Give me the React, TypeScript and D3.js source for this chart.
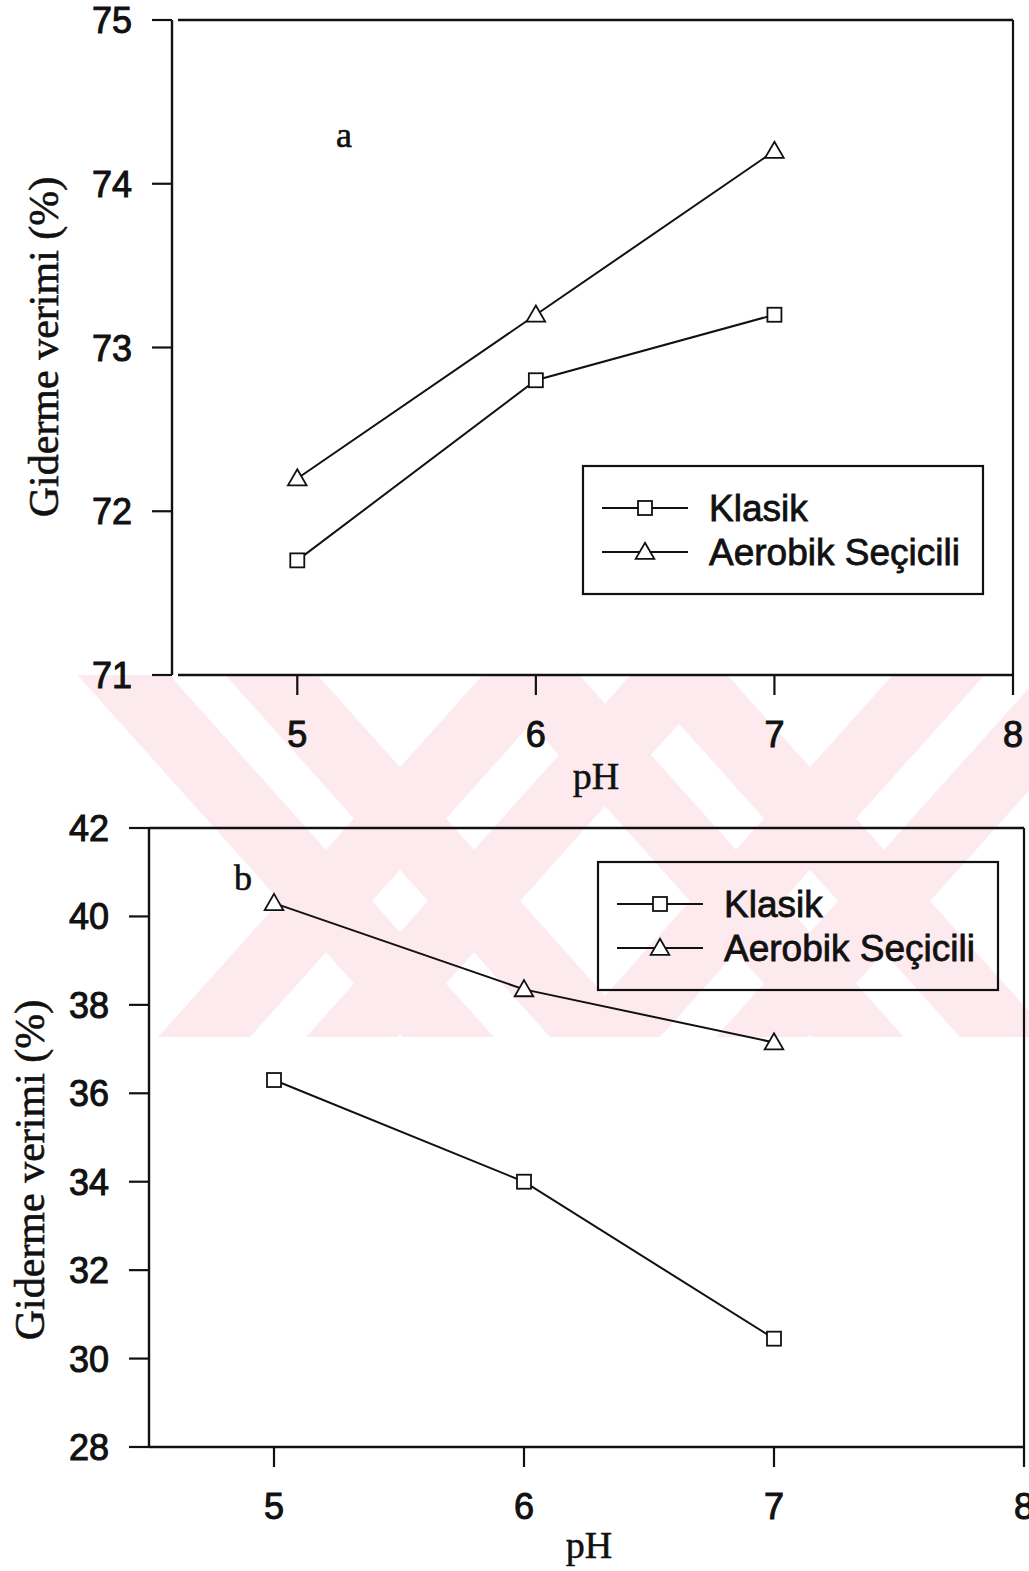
import React from "react";
import * as d3 from "d3";

// pH values shared by both panels
const phValues = [5, 6, 7];
const xTickValues = [5, 6, 7, 8];

// Panel a: removal efficiency (%)
const klasikA = [71.7, 72.8, 73.2];
const aerobikA = [72.2, 73.2, 74.2];
const yTicksA = [71, 72, 73, 74, 75];

// Panel b: removal efficiency (%)
const klasikB = [36.3, 34.0, 30.45];
const aerobikB = [40.3, 38.35, 37.15];
const yTicksB = [28, 30, 32, 34, 36, 38, 40, 42];

const seriesNames = ["Klasik", "Aerobik Seçicili"];
const yTitle = "Giderme verimi (%)";
const xTitle = "pH";

const SANS = "'Liberation Sans', Arial, Helvetica, sans-serif";
const SERIF = "'Liberation Serif', 'Times New Roman', serif";
const INK = "#111";
const PINK = "#fdeaee";

type PanelProps = {
  yAxisX: number;
  xLeft: number;
  xRight: number;
  top: number;
  bottom: number;
  yDomain: [number, number];
  yTicks: number[];
  klasik: number[];
  aerobik: number[];
  tag: string;
  tagX: number;
  tagY: number;
  legendX: number;
  legendY: number;
  titleX: number;
  titleY: number;
  xTitleX: number;
  xTitleY: number;
};

function Square({ x, y }: { x: number; y: number }) {
  const s = 14;
  return (
    <rect x={x - s / 2} y={y - s / 2} width={s} height={s} fill="#fff" stroke={INK} strokeWidth={1.8} />
  );
}

function Triangle({ x, y }: { x: number; y: number }) {
  const sym = d3.symbol().type(d3.symbolTriangle).size(150)();
  return <path d={sym || ""} transform={`translate(${x},${y + 1.5})`} fill="#fff" stroke={INK} strokeWidth={1.8} />;
}

function Panel(p: PanelProps) {
  const x = d3.scaleLinear().domain([4.5, 8]).range([p.xLeft, p.xRight]);
  const y = d3.scaleLinear().domain(p.yDomain).range([p.bottom, p.top]);
  const line = d3
    .line<number>()
    .x((_, i) => x(phValues[i]))
    .y((d) => y(d));
  const tickLen = 20;
  const legendW = 400;
  const legendH = 128;
  const rows = [42, 86];
  return (
    <g>
      {/* frame */}
      <line x1={p.yAxisX} x2={p.yAxisX} y1={p.top} y2={p.bottom} stroke={INK} strokeWidth={2.4} />
      <line x1={p.xLeft} x2={p.xRight} y1={p.top} y2={p.top} stroke={INK} strokeWidth={2.4} />
      <line x1={p.xLeft} x2={p.xRight} y1={p.bottom} y2={p.bottom} stroke={INK} strokeWidth={2.4} />
      <line x1={p.xRight} x2={p.xRight} y1={p.top} y2={p.bottom} stroke={INK} strokeWidth={2.2} />
      {/* y ticks */}
      {p.yTicks.map((t) => (
        <g key={"y" + t}>
          <line x1={p.yAxisX - tickLen} x2={p.yAxisX} y1={y(t)} y2={y(t)} stroke={INK} strokeWidth={2.2} />
          <text
            x={p.yAxisX - tickLen - 20}
            y={y(t) + 13}
            textAnchor="end"
            fontFamily={SANS}
            fontSize={36}
            fill={INK}
            stroke={INK}
            strokeWidth={1}
          >
            {t}
          </text>
        </g>
      ))}
      {/* x ticks */}
      {xTickValues.map((t) => (
        <g key={"x" + t}>
          <line x1={x(t)} x2={x(t)} y1={p.bottom} y2={p.bottom + tickLen} stroke={INK} strokeWidth={2.2} />
          <text
            x={x(t)}
            y={p.bottom + 72}
            textAnchor="middle"
            fontFamily={SANS}
            fontSize={36}
            fill={INK}
            stroke={INK}
            strokeWidth={1}
          >
            {t}
          </text>
        </g>
      ))}
      {/* axis titles */}
      <text
        x={p.xTitleX}
        y={p.xTitleY}
        textAnchor="middle"
        fontFamily={SERIF}
        fontSize={38}
        fill={INK}
        stroke={INK}
        strokeWidth={0.5}
      >
        {xTitle}
      </text>
      <text
        transform={`translate(${p.titleX},${p.titleY}) rotate(-90)`}
        textAnchor="middle"
        fontFamily={SERIF}
        fontSize={42}
        fill={INK}
        stroke={INK}
        strokeWidth={0.6}
      >
        {yTitle}
      </text>
      <text x={p.tagX} y={p.tagY} fontFamily={SERIF} fontSize={36} fill={INK} stroke={INK} strokeWidth={0.6}>
        {p.tag}
      </text>
      {/* series */}
      <path d={line(p.klasik) || ""} fill="none" stroke={INK} strokeWidth={2} />
      <path d={line(p.aerobik) || ""} fill="none" stroke={INK} strokeWidth={2} />
      {p.klasik.map((v, i) => (
        <Square key={"k" + i} x={x(phValues[i])} y={y(v)} />
      ))}
      {p.aerobik.map((v, i) => (
        <Triangle key={"a" + i} x={x(phValues[i])} y={y(v)} />
      ))}
      {/* legend */}
      <rect x={p.legendX} y={p.legendY} width={legendW} height={legendH} fill="none" stroke={INK} strokeWidth={2.2} />
      {seriesNames.map((name, i) => {
        const ry = p.legendY + rows[i];
        const lx1 = p.legendX + 19;
        const lx2 = p.legendX + 105;
        const mx = (lx1 + lx2) / 2;
        return (
          <g key={name}>
            <line x1={lx1} x2={lx2} y1={ry} y2={ry} stroke={INK} strokeWidth={1.8} />
            {i === 0 ? <Square x={mx} y={ry} /> : <Triangle x={mx} y={ry} />}
            <text
              x={p.legendX + 126}
              y={ry + 13}
              fontFamily={SANS}
              fontSize={37}
              fill={INK}
              stroke={INK}
              strokeWidth={0.8}
            >
              {name}
            </text>
          </g>
        );
      })}
    </g>
  );
}

// Double-striped "X" marks of the background watermark
const markCenters = [400, 810];
const markArms = [1, -1];
const stripeOffsets: [number, number][] = [
  [-120, -28],
  [28, 120],
];

function Watermark() {
  const top = 675;
  const bottom = 1037;
  const cy = 901;
  const s = 1.115;
  const polys: string[] = [];
  markCenters.forEach((cx) => {
    markArms.forEach((d) => {
      stripeOffsets.forEach(([o1, o2]) => {
        const xt = cx + (d * (top - cy)) / s;
        const xb = cx + (d * (bottom - cy)) / s;
        polys.push(
          [
            [xt + o1, top],
            [xt + o2, top],
            [xb + o2, bottom],
            [xb + o1, bottom],
          ]
            .map((pt) => pt.join(","))
            .join(" ")
        );
      });
    });
  });
  return (
    <g>
      <clipPath id="wm-clip">
        <rect x={0} y={top} width={1029} height={bottom - top} />
      </clipPath>
      <g clipPath="url(#wm-clip)">
        {polys.map((pts, i) => (
          <polygon key={i} points={pts} fill={PINK} />
        ))}
      </g>
    </g>
  );
}

export default function App() {
  return (
    <div style={{ position: "absolute", left: 0, top: 0, background: "#fff" }}>
      <svg width={1029} height={1571} style={{ display: "block" }}>
        <rect width={1029} height={1571} fill="#fff" />
        <Watermark />
        <Panel
          yAxisX={172}
          xLeft={178}
          xRight={1013}
          top={20}
          bottom={675}
          yDomain={[71, 75]}
          yTicks={yTicksA}
          klasik={klasikA}
          aerobik={aerobikA}
          tag="a"
          tagX={336}
          tagY={147}
          legendX={583}
          legendY={466}
          titleX={58}
          titleY={347}
          xTitleX={596}
          xTitleY={789}
        />
        <Panel
          yAxisX={149}
          xLeft={149}
          xRight={1024}
          top={828}
          bottom={1447}
          yDomain={[28, 42]}
          yTicks={yTicksB}
          klasik={klasikB}
          aerobik={aerobikB}
          tag="b"
          tagX={234}
          tagY={890}
          legendX={598}
          legendY={862}
          titleX={44}
          titleY={1170}
          xTitleX={589}
          xTitleY={1558}
        />
      </svg>
    </div>
  );
}
